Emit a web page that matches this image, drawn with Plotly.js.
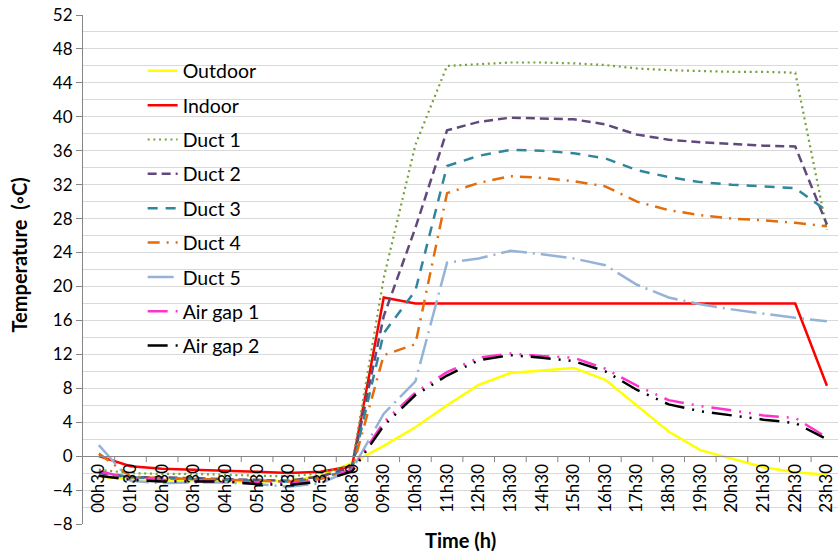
<!DOCTYPE html>
<html>
<head>
<meta charset="utf-8">
<script src="https://cdn.plot.ly/plotly-3.0.1.min.js"></script>
<style>
  html, body { margin: 0; padding: 0; background: #fff; overflow: hidden; }
  #chart { width: 838px; height: 553px; }
</style>
</head>
<body>
<div id="chart"></div>
<script>
// Hourly temperatures (°C), sampled at half past each hour
const times = ['00h30','01h30','02h30','03h30','04h30','05h30','06h30','07h30',
  '08h30','09h30','10h30','11h30','12h30','13h30','14h30','15h30',
  '16h30','17h30','18h30','19h30','20h30','21h30','22h30','23h30'];

const outdoor = [-2.4,-2.7,-2.8,-2.9,-3.0,-3.0,-2.9,-2.3,-0.8,1.2,3.4,6.0,8.4,9.8,10.1,10.4,9.0,6.0,2.9,0.7,-0.3,-1.3,-1.9,-2.2];
const indoor  = [0.0,-1.2,-1.5,-1.6,-1.7,-1.85,-2.0,-1.85,-1.2,18.7,18.0,18.0,18.0,18.0,18.0,18.0,18.0,18.0,18.0,18.0,18.0,18.0,18.0,8.3];
const duct1   = [-1.6,-2.0,-2.1,-2.1,-2.2,-2.3,-2.4,-2.0,-1.0,21.0,36.7,46.0,46.2,46.4,46.4,46.3,46.1,45.7,45.5,45.4,45.3,45.3,45.2,26.7];
const duct2   = [-2.0,-2.5,-2.5,-2.6,-2.7,-2.8,-2.9,-2.4,-1.3,16.5,26.9,38.4,39.4,39.9,39.8,39.7,39.1,37.9,37.3,37.0,36.8,36.6,36.5,27.3];
const duct3   = [-1.8,-2.5,-2.6,-2.7,-2.8,-2.9,-3.0,-2.6,-1.5,14.5,19.5,34.2,35.4,36.1,36.0,35.7,35.1,33.7,32.9,32.3,32.0,31.8,31.6,28.9];
const duct4   = [0.3,-2.4,-2.6,-2.7,-2.8,-2.9,-3.0,-2.7,-1.6,11.9,13.2,31.0,32.2,33.0,32.8,32.4,31.8,30.0,29.0,28.4,28.0,27.8,27.5,27.1];
const duct5   = [1.3,-2.9,-3.2,-3.1,-3.1,-3.3,-3.6,-3.2,-1.6,5.0,8.8,22.8,23.3,24.2,23.8,23.3,22.5,20.2,18.7,17.9,17.3,16.8,16.3,15.9];
const airGap1 = [-1.8,-2.6,-2.8,-2.9,-3.0,-3.1,-3.2,-2.9,-1.6,4.0,7.5,9.9,11.6,12.1,11.8,11.6,10.3,8.3,6.6,5.9,5.4,4.8,4.5,2.2];
const airGap2 = [-2.3,-2.8,-3.0,-3.0,-3.0,-3.3,-3.4,-3.0,-1.8,3.6,7.2,9.5,11.3,11.9,11.6,11.2,10.0,7.8,6.1,5.3,4.8,4.3,3.9,2.0];

const seriesNames = ['Outdoor','Indoor','Duct 1','Duct 2','Duct 3','Duct 4','Duct 5','Air gap 1','Air gap 2'];
const seriesValues = [outdoor, indoor, duct1, duct2, duct3, duct4, duct5, airGap1, airGap2];

// Line look for each series
const styles = [
  {color: '#ffff00', dash: 'solid', width: 2.5},
  {color: '#ff0000', dash: 'solid', width: 2.5},
  {color: '#77a03c', dash: '2px,3.7px', width: 2.2},
  {color: '#604a7b', dash: '9px,5px', width: 2.5},
  {color: '#31859c', dash: '10px,8px', width: 2.5},
  {color: '#e46c0a', dash: '12px,7px,2px,7px', width: 2.5},
  {color: '#95b3d7', dash: '26px,6px,2px,6px', width: 2.5},
  {color: '#ff33cc', dash: '20px,8px,2px,8px,2px,8px', width: 2.5},
  {color: '#000000', dash: '20px,8px,2px,8px,2px,8px', width: 2.5}
];

const FONT = 'Lato, "Open Sans", sans-serif';

const traces = seriesNames.map((name, i) => ({
  type: 'scatter',
  mode: 'lines',
  name: name,
  legendgroup: 'g' + i,
  x: times,
  y: seriesValues[i],
  line: {color: styles[i].color, dash: styles[i].dash, width: styles[i].width},
  hoverinfo: 'skip'
}));

const yMin = -8, yMax = 52;
const axisPos = (0 - yMin) / (yMax - yMin);   // the time axis crosses at 0 °C

// short tick marks hanging below the time axis, between neighbouring categories
const boundaryTicks = times.slice(1).map((_, i) => ({
  type: 'line', layer: 'above',
  xref: 'x', yref: 'y',
  x0: i + 0.5, x1: i + 0.5,
  ysizemode: 'pixel', yanchor: 0, y0: 0, y1: -6,
  line: {color: '#868686', width: 1}
}));

const layout = {
  width: 838,
  height: 553,
  margin: {l: 83, r: 0, t: 15, b: 29, pad: 0},
  paper_bgcolor: '#ffffff',
  plot_bgcolor: '#ffffff',
  font: {family: FONT},
  showlegend: true,
  legend: {
    x: 0.079, y: 0.928, xanchor: 'left', yanchor: 'top',
    bgcolor: 'rgba(0,0,0,0)',
    font: {family: FONT, size: 19.5, color: '#000000'},
    traceorder: 'grouped',
    tracegroupgap: 6
  },
  xaxis: {
    type: 'category',
    range: [-0.5, 23.35],
    anchor: 'free',
    position: axisPos,
    showline: true,
    linecolor: '#868686',
    ticks: '',
    tickangle: -90,
    tickfont: {family: FONT, size: 17, color: '#000000'},
    showgrid: false,
    zeroline: false
  },
  yaxis: {
    range: [yMin, yMax],
    dtick: 4,
    showline: true,
    linecolor: '#868686',
    ticks: 'outside',
    ticklen: 6,
    tickcolor: '#868686',
    tickfont: {family: FONT, size: 17, color: '#000000'},
    showgrid: true,
    gridcolor: '#d9d9d9',
    minor: {dtick: 2, showgrid: true, gridcolor: '#d9d9d9'},
    zeroline: false
  },
  shapes: boundaryTicks,
  annotations: [
    {
      text: '<b>Time (h)</b>', xref: 'paper', yref: 'paper',
      x: 0.5, y: 0, yshift: -16, xanchor: 'center', yanchor: 'middle',
      showarrow: false, font: {family: FONT, size: 20, color: '#000000'}
    },
    {
      text: '<b>Temperature  (◦C)</b>', xref: 'paper', yref: 'paper',
      x: 0, xshift: -65, y: 0.5, yshift: 14, xanchor: 'center', yanchor: 'middle',
      textangle: -90,
      showarrow: false, font: {family: FONT, size: 20, color: '#000000'}
    }
  ]
};

Plotly.newPlot('chart', traces, layout, {displayModeBar: false, staticPlot: true});
</script>
</body>
</html>
